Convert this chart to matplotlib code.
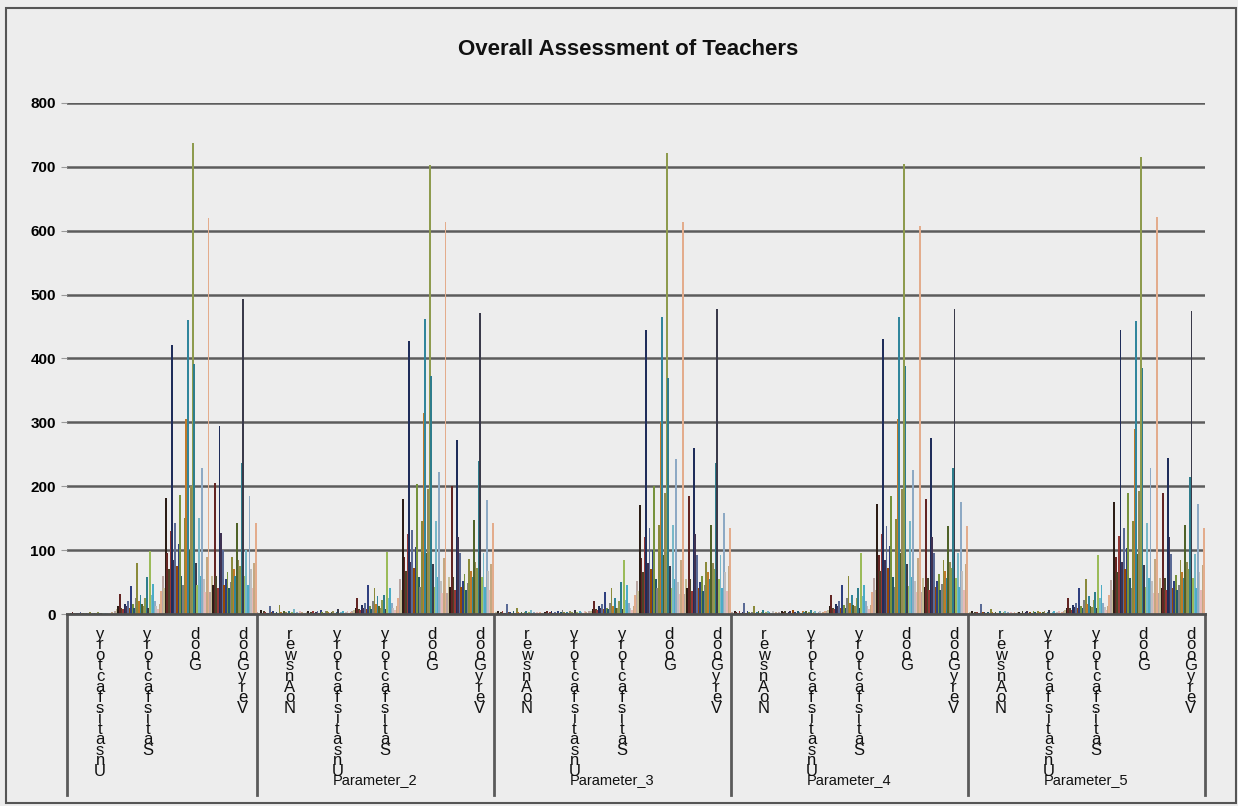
import matplotlib
matplotlib.use('Agg')
import matplotlib.pyplot as plt
import matplotlib.transforms as mtransforms
from matplotlib.patches import Rectangle
from matplotlib.lines import Line2D

plt.rcParams['font.family'] = ['Liberation Sans', 'DejaVu Sans']

## ------------------------------
## data, 30 series per rating cluster
p1_unsat = [1,2,1,3,2,1,2,1,3,2,1,2,1,2,3,1,2,1,2,3,1,2,1,2,1,2,1,2,3,2]
p1_sat = [5,8,12,31,10,8,15,12,20,10,44,15,10,25,80,20,30,15,12,25,58,10,98,30,47,20,12,8,15,36]
p1_good = [60,40,182,95,70,130,421,85,143,75,110,187,60,45,150,305,460,100,200,737,391,80,45,150,60,228,55,35,90,620]
p1_vgood = [35,60,45,205,60,40,294,127,100,45,55,65,40,50,90,70,60,143,85,75,237,493,60,100,45,184,70,40,80,143]

p2_noans = [3,2,6,2,4,3,2,1,12,3,4,2,3,2,14,3,2,4,3,2,5,2,3,8,2,3,2,4,3,2]
p2_unsat = [2,3,4,2,3,5,2,3,4,2,6,3,2,4,5,3,2,3,4,2,3,8,2,3,4,2,3,5,2,3]
p2_sat = [4,6,10,25,8,6,14,10,18,8,45,12,8,20,40,15,28,12,10,22,30,8,97,25,40,18,10,6,12,25]
p2_good = [55,38,180,90,68,125,428,82,132,72,105,203,58,42,145,315,462,95,195,703,372,78,42,145,58,222,52,33,88,613]
p2_vgood = [33,58,42,200,58,38,272,121,96,42,52,62,38,48,86,68,58,147,82,72,240,471,58,96,42,178,68,38,78,142]

p3_noans = [2,3,5,2,3,4,2,2,15,3,3,2,4,2,10,3,2,3,2,3,4,2,3,6,2,3,2,3,2,3]
p3_unsat = [2,2,3,4,2,3,5,2,3,2,4,2,3,6,3,2,3,2,5,3,2,7,3,2,4,3,2,4,3,2]
p3_sat = [4,5,8,20,8,6,12,10,15,8,35,10,8,18,40,12,25,10,10,20,50,8,85,22,45,18,10,6,12,30]
p3_good = [52,36,170,88,65,120,445,80,135,70,100,200,55,40,140,300,465,92,190,722,370,75,40,140,55,243,50,32,85,613]
p3_vgood = [32,55,40,185,55,36,260,125,92,40,50,60,36,45,82,65,55,140,80,70,237,478,55,92,40,158,65,36,75,135]

p4_noans = [3,2,4,3,2,5,2,3,18,2,4,3,2,3,12,2,3,4,2,3,6,2,3,5,3,2,4,2,3,2]
p4_unsat = [3,2,4,3,5,2,3,4,2,6,3,2,4,3,2,5,3,4,2,3,6,2,3,4,2,3,5,2,3,4]
p4_sat = [5,7,12,30,10,8,16,12,20,10,45,14,10,25,60,18,30,14,12,25,40,10,95,28,45,20,12,8,14,35]
p4_good = [56,38,172,92,68,126,430,84,138,72,106,185,58,42,148,305,465,96,196,705,388,78,44,146,58,225,52,34,88,608]
p4_vgood = [34,57,42,180,57,38,275,120,95,42,52,62,38,47,85,67,57,138,82,72,228,478,57,95,42,175,67,38,78,138]

p5_noans = [2,3,4,2,3,3,2,2,15,3,3,2,3,2,8,3,2,3,2,2,4,2,3,5,2,3,2,3,2,3]
p5_unsat = [2,3,3,2,4,2,3,5,2,3,2,4,3,2,5,3,2,3,4,2,3,6,2,3,4,2,3,4,2,3]
p5_sat = [4,6,10,25,9,7,14,11,18,9,40,12,9,22,55,16,28,12,11,22,35,9,92,25,45,18,11,7,13,30]
p5_good = [54,37,175,90,66,122,445,82,135,71,104,190,56,41,146,290,458,94,192,715,385,76,43,143,56,228,51,33,86,622]
p5_vgood = [33,56,41,190,56,37,245,120,94,41,51,61,37,46,84,66,56,140,81,71,215,475,56,94,41,172,66,37,77,135]

groups = ['', 'Parameter_2', 'Parameter_3', 'Parameter_4', 'Parameter_5']
ratings_p1 = ['Unsatisfactory', 'Satisfactory', 'Good', 'Very Good']
ratings = ['No Answer', 'Unsatisfactory', 'Satisfactory', 'Good', 'Very Good']

cats = [p1_unsat, p1_sat, p1_good, p1_vgood,
        p2_noans, p2_unsat, p2_sat, p2_good, p2_vgood,
        p3_noans, p3_unsat, p3_sat, p3_good, p3_vgood,
        p4_noans, p4_unsat, p4_sat, p4_good, p4_vgood,
        p5_noans, p5_unsat, p5_sat, p5_good, p5_vgood]
cat_labels = ratings_p1 + ratings * 4
group_sizes = [4, 5, 5, 5, 5]

colors = ['#B9A6A3', '#C4BD97', '#2B1D16', '#632523', '#4A452A', '#953735',
          '#1F2D5A', '#3F3151', '#5A6A95', '#974806', '#2F3F7F', '#76923C',
          '#215968', '#7F7F7F', '#8A8A3A', '#C07A2A', '#31859C', '#4F6228',
          '#948A54', '#8E9B4E', '#2E7D8C', '#3A3A4A', '#9BBB59', '#78B8C8',
          '#4BACC6', '#8DA9C4', '#BFBFBF', '#E6B9B8', '#C4A882', '#E3AC8C']

bg = '#EDEDED'
nser = len(colors)
ncat = len(cats)

fig = plt.figure(figsize=(12.38, 8.06), dpi=100, facecolor=bg)
ax = fig.add_axes([67/1238, 1-614/806, (1205-67)/1238, (614-103)/806])
ax.set_facecolor(bg)

w = 1.0/nser
for k in range(nser):
    xs = [i - 0.5 + (k + 0.5)*w for i in range(ncat)]
    hs = [c[k] for c in cats]
    ax.bar(xs, hs, width=w*1.15, color=colors[k], linewidth=0, zorder=3)

ax.set_xlim(-0.5, ncat - 0.5)
ax.set_ylim(0, 800)
ax.set_yticks(range(0, 900, 100))
ax.yaxis.grid(True, color='#5C5C5C', linewidth=1.8, zorder=1)
ax.set_axisbelow(True)
ax.tick_params(axis='y', length=4, color='#9A9A9A', labelsize=11, pad=4)
ax.tick_params(axis='x', length=0, labelbottom=False)
for s in ['left', 'right', 'top']:
    ax.spines[s].set_visible(False)
ax.spines['bottom'].set_color('#505050')
ax.spines['bottom'].set_linewidth(2)
ax.spines['bottom'].set_zorder(4)
for lab in ax.get_yticklabels():
    lab.set_fontweight('bold')

trans = mtransforms.blended_transform_factory(ax.transData, ax.transAxes)

# stacked rating labels
for i, name in enumerate(cat_labels):
    txt = '\n'.join(reversed(name.replace(' ', '')))
    ax.text(i + 0.2, -0.025, txt, transform=trans, ha='center', va='top',
            fontsize=12, linespacing=0.63, color='#111111')

# group separators and names
start = 0
bounds = [-0.5]
for n in group_sizes:
    start += n
    bounds.append(start - 0.5)
for b in bounds:
    ax.add_line(Line2D([b, b], [0, -0.355], transform=trans, color='#5A5A5A',
                       linewidth=2, clip_on=False))
for g, name in enumerate(groups):
    mid = (bounds[g] + bounds[g+1]) / 2
    ax.text(mid, -0.325, name, transform=trans, ha='center', va='center',
            fontsize=10.5, color='#111111')

fig.text(0.507, 0.938, 'Overall Assessment of Teachers', ha='center', va='center',
         fontsize=16, fontweight='bold', color='#111111')

fig.add_artist(Rectangle((6/1238, 3/806), (1236-6)/1238, (798-3)/806,
                         transform=fig.transFigure, fill=False,
                         edgecolor='#555555', linewidth=1.5))

plt.savefig('out.png', dpi=100, facecolor=bg)
